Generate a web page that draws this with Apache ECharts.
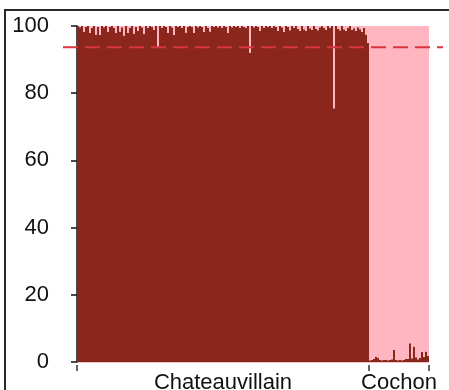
<!DOCTYPE html>
<html>
<head>
<meta charset="utf-8">
<script src="https://cdn.jsdelivr.net/npm/echarts@6/dist/echarts.min.js"></script>
<style>
html,body{margin:0;padding:0;background:#fff;}
#chart{width:449px;height:390px;}
</style>
</head>
<body>
<div id="chart"></div>
<script>
// Group names and per-individual ancestry (% dark-red cluster)
var groupNames = ['Chateauvillain', 'Cochon'];
var chateauvillain = [
  100, 99.6, 100, 98.2, 99.7, 100, 98.0, 99.5, 100, 97.5,
  99.8, 97.3, 100, 99.6, 100, 98.3, 99.7, 100, 99.4, 97.9,
  100, 98.4, 99.6, 97.2, 100, 98.0, 99.5, 100, 97.8, 99.7,
  98.5, 100, 99.6, 97.6, 100, 99.4, 100, 99.7, 98.9, 100,
  93.5, 100, 99.5, 100, 99.7, 97.9, 100, 99.6, 97.3, 100,
  99.8, 100, 99.5, 100, 98.1, 99.7, 100, 99.8, 98.0, 100,
  99.6, 100, 99.7, 98.2, 100, 99.5, 98.4, 100, 99.8, 100,
  99.6, 100, 99.4, 100, 99.8, 98.0, 100, 99.6, 100, 99.7,
  100, 99.5, 100, 99.8, 99.4, 100, 92.0, 100, 99.6, 100,
  99.7, 98.6, 100, 99.5, 100, 99.8, 100, 99.4, 100, 99.7,
  98.5, 100, 99.6, 98.3, 100, 99.7, 98.7, 100, 99.5, 100,
  99.2, 98.6, 100, 99.0, 98.5, 100, 99.3, 98.8, 100, 99.1,
  98.7, 99.6, 100, 99.4, 98.9, 100, 99.5, 100, 75.5, 100,
  99.2, 98.7, 100, 99.0, 98.6, 99.5, 100, 98.9, 99.3, 98.5,
  99.6, 99.0, 98.2, 99.4, 97.5, 95.0
];
var cochon = [
  0.5, 0.7, 0.9, 1.6, 1.2, 0.6, 0.5, 0.7, 0.6, 0.5,
  0.6, 0.8, 3.6, 0.7, 0.5, 0.6, 0.5, 0.7, 0.9, 1.0,
  5.6, 1.1, 4.6, 1.4, 0.8, 1.2, 3.0, 1.5, 3.1, 1.8
];
var thresholdValue = 93.7;
var yTicks = [0, 20, 40, 60, 80, 100];

var darkRed = '#8a261b';
var pink = '#ffb6c1';

var groups = [chateauvillain, cochon];
var allVals = [].concat(chateauvillain, cochon);
var N = allVals.length;
var cats = allVals.map(function (v, i) { return i; });
var rest = allVals.map(function (v) { return +(100 - v).toFixed(2); });

var bounds = [0];
var centers = [];
var acc = 0;
groups.forEach(function (g) {
  centers.push(acc + g.length / 2);
  acc += g.length;
  bounds.push(acc);
});

var chart = echarts.init(document.getElementById('chart'), null, {renderer: 'canvas'});
var font = 'Liberation Sans, Arial, sans-serif';
chart.setOption({
  animation: false,
  backgroundColor: '#fff',
  grid: [
    {left: 77, right: 20, top: 26, bottom: 28, containLabel: false, outerBoundsMode: 'none'},
    {left: 63, right: 6, top: 26, bottom: 28, containLabel: false, outerBoundsMode: 'none'}
  ],
  xAxis: [
    {type: 'category', gridIndex: 0, data: cats, show: false, boundaryGap: true},
    {
      type: 'value', gridIndex: 0, min: 0, max: N, position: 'bottom', offset: 3,
      axisLine: {show: false},
      splitLine: {show: false},
      axisTick: {show: true, customValues: bounds, length: 6, lineStyle: {color: '#333', width: 1.5}},
      axisLabel: {
        show: true, customValues: centers, margin: 7,
        fontFamily: font, fontSize: 22, color: '#111',
        formatter: function (v) {
          var k = centers.indexOf(v);
          return k >= 0 ? groupNames[k] : '';
        }
      }
    },
    {type: 'value', gridIndex: 1, min: 0, max: 1, show: false}
  ],
  yAxis: [
    {
      type: 'value', gridIndex: 0, min: 0, max: 100, interval: 20, offset: 14,
      axisLine: {show: true, lineStyle: {color: '#111', width: 1.5}},
      axisTick: {show: true, length: 6, lineStyle: {color: '#111', width: 1.5}},
      axisLabel: {
        margin: 14, fontFamily: font, fontSize: 22, color: '#111',
        formatter: function (v) { return yTicks.indexOf(v) >= 0 ? String(v) : ''; }
      },
      splitLine: {show: false}
    },
    {type: 'value', gridIndex: 1, min: 0, max: 100, show: false}
  ],
  graphic: [
    {
      type: 'polyline', silent: true,
      shape: {points: [[5, 390], [5, 10], [449, 10]]},
      style: {stroke: '#2a2a2a', lineWidth: 2, fill: null}
    },
    {
      type: 'line', silent: true,
      shape: {x1: 77, y1: 362.5, x2: 429, y2: 362.5},
      style: {stroke: '#f3c2c6', lineWidth: 1}
    }
  ],
  series: [
    {
      type: 'bar', xAxisIndex: 0, yAxisIndex: 0, stack: 'q', data: allVals,
      barCategoryGap: '0%', barGap: '0%',
      itemStyle: {color: darkRed}, silent: true
    },
    {
      type: 'bar', xAxisIndex: 0, yAxisIndex: 0, stack: 'q', data: rest,
      barCategoryGap: '0%', barGap: '0%',
      itemStyle: {color: pink}, silent: true
    },
    {
      type: 'line', xAxisIndex: 2, yAxisIndex: 1, symbol: 'none', silent: true,
      data: [[0, thresholdValue], [1, thresholdValue]],
      lineStyle: {color: '#d9343f', width: 2, type: [15, 7]}, z: 5
    }
  ]
});
</script>
</body>
</html>
